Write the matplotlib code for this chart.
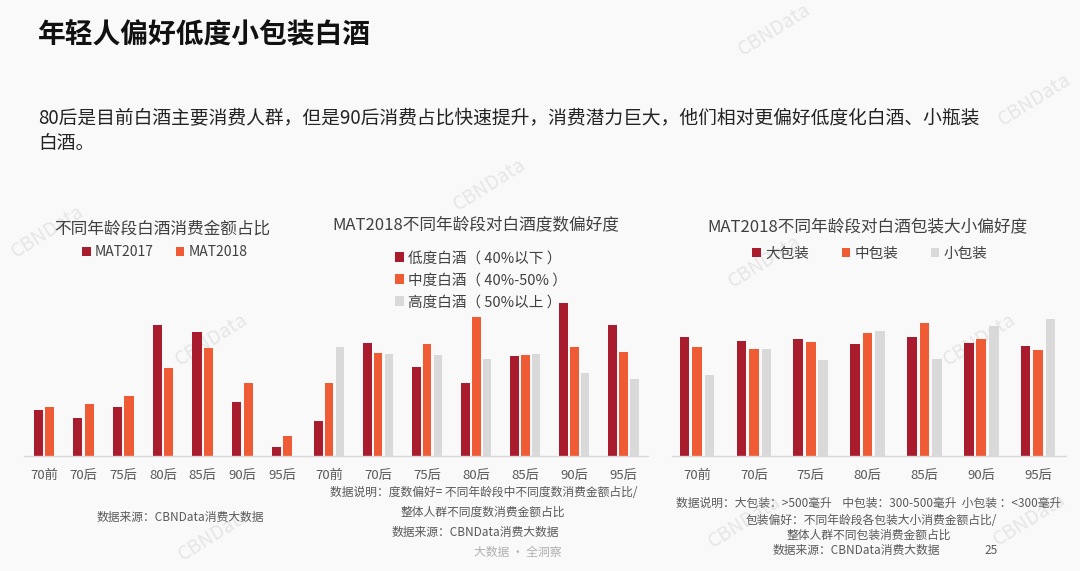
import matplotlib
matplotlib.use("Agg")
import matplotlib.pyplot as plt
import numpy as np

plt.rcParams['font.family'] = ['Noto Sans CJK SC', 'DejaVu Sans']

W, H = 1080, 571
BG = '#F9F9F9'
DARK = '#A81C2E'
ORANGE = '#EF5B35'
GRAY = '#D9D9D9'
TXT = '#404040'

ages = ['70前', '70后', '75后', '80后', '85后', '90后', '95后']

# chart 1: share of spend by age group
share_labels = ['MAT2017', 'MAT2018']
share_2017 = [46, 38, 49, 131, 124, 54, 9]
share_2018 = [49, 52, 60, 88, 108, 73, 20]

# chart 2: alcohol strength preference index
abv_labels = ['低度白酒（ 40%以下 ）', '中度白酒（ 40%-50% ）', '高度白酒（ 50%以上 ）']
abv_low = [35, 113, 89, 73, 100, 153, 131]
abv_mid = [73, 103, 112, 139, 101, 109, 104]
abv_high = [109, 102, 101, 97, 102, 83, 77]

# chart 3: package size preference index
pack_labels = ['大包装', '中包装', '小包装']
pack_big = [119, 115, 117, 112, 119, 113, 110]
pack_mid = [109, 107, 114, 123, 133, 117, 106]
pack_small = [81, 107, 96, 125, 97, 130, 137]


def fx(x):
    return x / W


def fy(y):
    return 1 - y / H


fig = plt.figure(figsize=(W / 100, H / 100), dpi=100, facecolor=BG)

# faint watermarks
for wx, wy in [(775, 30), (490, 185), (1035, 100), (48, 232), (212, 340),
               (765, 262), (980, 340), (745, 522), (1030, 520), (215, 535)]:
    fig.text(fx(wx), fy(wy), 'CBNData', rotation=32, color='#E6E6E6',
             fontsize=14, ha='center', va='center', zorder=-5)

fig.text(fx(38), fy(34), '年轻人偏好低度小包装白酒', fontsize=20, fontweight='bold',
         color='#111111', ha='left', va='center')
fig.text(fx(38), fy(119), '80后是目前白酒主要消费人群，但是90后消费占比快速提升，消费潜力巨大，他们相对更偏好低度化白酒、小瓶装',
         fontsize=13.5, color='#222222', ha='left', va='center')
fig.text(fx(38), fy(144), '白酒。', fontsize=13.5, color='#222222', ha='left', va='center')

base = 456
axh = 200


def make_ax(x0, x1, lo, hi):
    ax = fig.add_axes([fx(x0), fy(base), fx(x1 - x0), axh / H])
    ax.set_facecolor('none')
    ax.set_xlim(lo, hi)
    ax.set_ylim(0, axh)
    for s in ['top', 'left', 'right']:
        ax.spines[s].set_visible(False)
    ax.spines['bottom'].set_color('#D9D9D9')
    ax.spines['bottom'].set_linewidth(1)
    ax.set_yticks([])
    ax.set_xticks(np.arange(len(ages)))
    ax.set_xticklabels(ages, fontsize=9.5, color='#595959')
    ax.tick_params(axis='x', length=0, pad=9)
    return ax


x = np.arange(len(ages))

# chart 1
ax1 = make_ax(24, 306, -0.5, 6.6)
b1 = ax1.bar(x - 0.145, share_2017, 0.23, color=DARK)
b2 = ax1.bar(x + 0.145, share_2018, 0.23, color=ORANGE)
fig.text(fx(162), fy(229), '不同年龄段白酒消费金额占比', fontsize=12, color=TXT,
         ha='center', va='center')
ax1.legend([b1, b2], share_labels, ncol=2, loc='center', bbox_to_anchor=(fx(165), fy(252)),
           bbox_transform=fig.transFigure, frameon=False, fontsize=10, handlelength=0.6,
           handleheight=0.6, handletextpad=0.3, columnspacing=1.6, labelcolor=TXT)
fig.text(fx(180), fy(517), '数据来源：CBNData消费大数据', fontsize=8.5, color='#595959',
         ha='center', va='center')

# chart 2
ax2 = make_ax(306, 648, -0.47, 6.5)
c1 = ax2.bar(x - 0.22, abv_low, 0.175, color=DARK)
c2 = ax2.bar(x, abv_mid, 0.175, color=ORANGE)
c3 = ax2.bar(x + 0.22, abv_high, 0.175, color=GRAY)
fig.text(fx(476), fy(225), 'MAT2018不同年龄段对白酒度数偏好度', fontsize=12, color=TXT,
         ha='center', va='center')
ax2.legend([c1, c2, c3], abv_labels, ncol=1, loc='upper left', bbox_to_anchor=(fx(382), fy(238)),
           bbox_transform=fig.transFigure, frameon=False, fontsize=10.5, handlelength=0.6,
           handleheight=0.6, handletextpad=0.3, labelspacing=0.55, labelcolor=TXT)
fig.text(fx(484), fy(492), '数据说明：度数偏好= 不同年龄段中不同度数消费金额占比/', fontsize=8.5,
         color='#595959', ha='center', va='center')
fig.text(fx(483), fy(512), '整体人群不同度数消费金额占比', fontsize=8.5, color='#595959',
         ha='center', va='center')
fig.text(fx(475), fy(532), '数据来源：CBNData消费大数据', fontsize=8.5, color='#595959',
         ha='center', va='center')
fig.text(fx(518), fy(552), '大数据 · 全洞察', fontsize=8.5, color='#B0B0B0',
         ha='center', va='center')

# chart 3
ax3 = make_ax(672, 1066, -0.44, 6.49)
d1 = ax3.bar(x - 0.22, pack_big, 0.17, color=DARK)
d2 = ax3.bar(x, pack_mid, 0.17, color=ORANGE)
d3 = ax3.bar(x + 0.22, pack_small, 0.17, color=GRAY)
fig.text(fx(867), fy(228), 'MAT2018不同年龄段对白酒包装大小偏好度', fontsize=12, color=TXT,
         ha='center', va='center')
ax3.legend([d1, d2, d3], pack_labels, ncol=3, loc='center', bbox_to_anchor=(fx(870), fy(254)),
           bbox_transform=fig.transFigure, frameon=False, fontsize=10.5, handlelength=0.6,
           handleheight=0.6, handletextpad=0.3, columnspacing=2.2, labelcolor=TXT)
fig.text(fx(869), fy(503), '数据说明：大包装：>500毫升    中包装：300-500毫升  小包装 ：<300毫升',
         fontsize=8.5, color='#595959', ha='center', va='center')
fig.text(fx(871), fy(520), '包装偏好：不同年龄段各包装大小消费金额占比/', fontsize=8.5,
         color='#595959', ha='center', va='center')
fig.text(fx(869), fy(535), '整体人群不同包装消费金额占比', fontsize=8.5, color='#595959',
         ha='center', va='center')
fig.text(fx(856), fy(550), '数据来源：CBNData消费大数据', fontsize=8.5, color='#595959',
         ha='center', va='center')
fig.text(fx(991), fy(550), '25', fontsize=8.5, color='#595959', ha='center', va='center')

fig.savefig('out.png', dpi=100, facecolor=BG)
